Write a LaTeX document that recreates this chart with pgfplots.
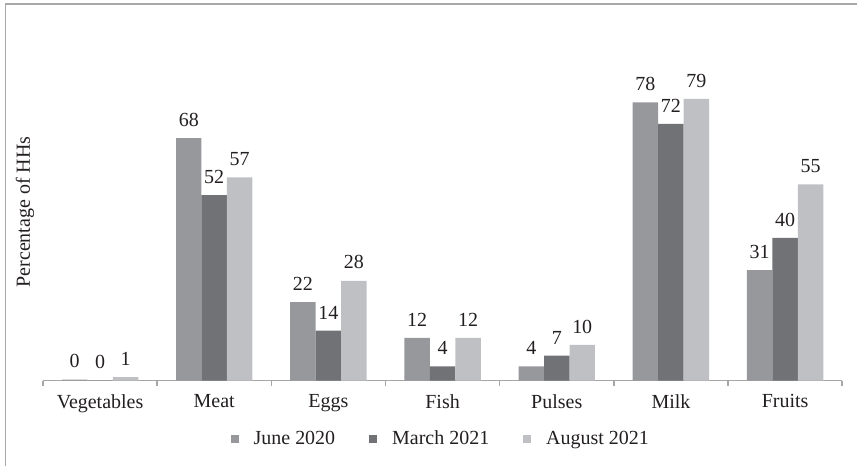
\documentclass[border=0pt]{standalone}
\usepackage{fontspec}
\setmainfont{Liberation Serif}
\usepackage{pgfplots}
\pgfplotsset{compat=1.18}
\definecolor{cJune}{HTML}{97989C}
\definecolor{cMarch}{HTML}{717276}
\definecolor{cAug}{HTML}{BFC0C4}
\definecolor{axgray}{HTML}{A6A6A6}
\definecolor{framegray}{HTML}{A8A8A8}
\definecolor{txt}{HTML}{231F20}
\begin{document}
\begin{tikzpicture}[font=\fontsize{10}{12}\selectfont, text=txt]
\begin{axis}[
  scale only axis,
  width=400pt, height=178.5pt,
  ymin=0, ymax=100,
  xmin=-0.5, xmax=6.5,
  clip=false,
  ybar=0pt,
  bar width=12.75pt,
  axis x line*=bottom,
  axis y line=none,
  axis line style={axgray, line width=0.8pt, -},
  xtick={0,1,2,3,4,5,6},
  xticklabels={Vegetables,Meat,Eggs,Fish,Pulses,Milk,Fruits},
  minor xtick={-0.5,0.5,1.5,2.5,3.5,4.5,5.5,6.5},
  major tick length=0pt,
  minor tick length=2.5pt,
  tick align=outside,
  xtick pos=bottom,
  every tick/.style={axgray, line width=0.8pt},
  xticklabel style={yshift=-3.5pt, text=txt},
  point meta=explicit symbolic,
  nodes near coords,
  every node near coord/.append style={yshift=2.3pt, text=txt, font=\fontsize{10}{12}\selectfont},
  legend columns=3,
  legend style={draw=none, fill=none, at={(axis description cs:0.499,-0.165)}, anchor=center,
    font=\fontsize{10}{12}\selectfont, text=txt,
    /tikz/every odd column/.append style={column sep=5.5pt},
    /tikz/every even column/.append style={column sep=15pt}},
  legend image code/.code={\fill[#1] (0pt,-2pt) rectangle (4pt,2pt);},
]
\addplot[fill=cJune, draw=none] table[meta=lab] {
x y lab
0 0.3 0
1 68 68
2 22 22
3 12 12
4 4 4
5 78 78
6 31 31
};
\addplot[fill=cMarch, draw=none] table[meta=lab] {
x y lab
0 0 0
1 52 52
2 14 14
3 4 4
4 7 7
5 72 72
6 40 40
};
\addplot[fill=cAug, draw=none] table[meta=lab] {
x y lab
0 1 1
1 57 57
2 28 28
3 12 12
4 10 10
5 79 79
6 55 55
};
\legend{June 2020, March 2021, August 2021}
\node[rotate=90, anchor=center, text=txt] at (axis description cs:-0.0225,0.473) {Percentage of HHs};
\end{axis}
\coordinate (O) at (current axis.south west);
\draw[framegray, line width=0.8pt] ([shift={(-18.75pt,-42.5pt)}]O) -- ([shift={(-18.75pt,188.5pt)}]O) -- ([shift={(407.5pt,188.5pt)}]O);
\path ([shift={(-21.5pt,-42.5pt)}]O) rectangle ([shift={(407.5pt,190.5pt)}]O);
\end{tikzpicture}
\end{document}
